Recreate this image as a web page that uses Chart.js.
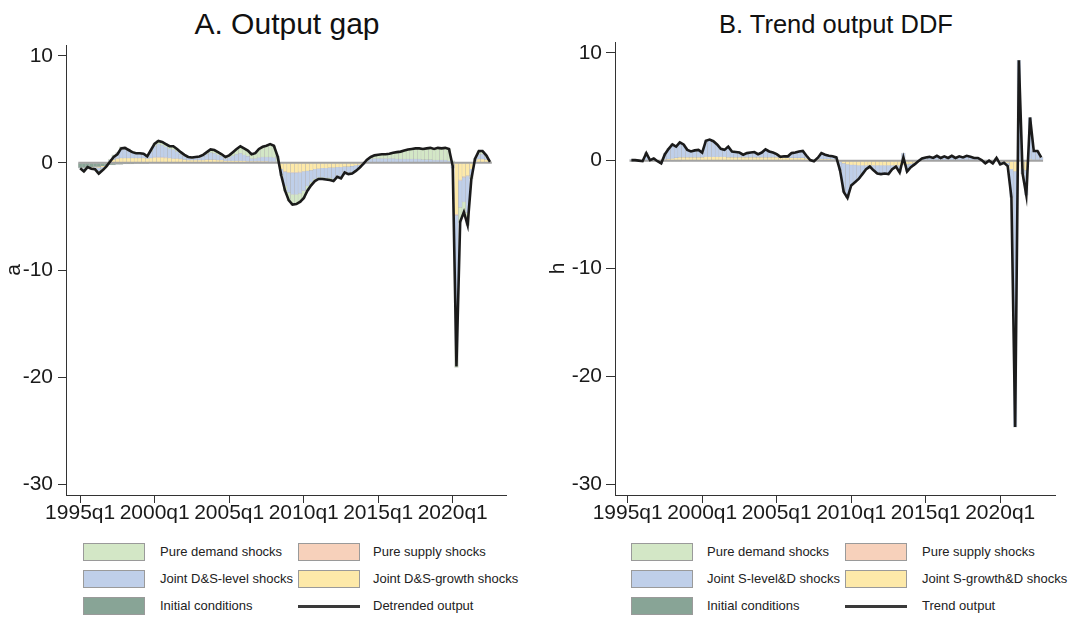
<!DOCTYPE html>
<html>
<head>
<meta charset="utf-8">
<title>Output gap and trend output decomposition</title>
<script src="https://cdn.jsdelivr.net/npm/chart.js@4.4.1/dist/chart.umd.min.js"></script>
<style>
  html, body { margin: 0; padding: 0; background: #fff; width: 1071px; height: 617px; overflow: hidden;
               font-family: "Liberation Sans", Arial, sans-serif; }
  canvas { position: absolute; }
  .ttl { position: absolute; transform: translateX(-50%); white-space: nowrap; line-height: 1.15; color: #111; }
  .sw { position: absolute; width: 62px; height: 18px; box-sizing: border-box; border: 1px solid #9a9a9a; }
  .ln { position: absolute; width: 62px; height: 3px; background: #3a3a3a; }
  .lt { position: absolute; font-size: 13px; line-height: 18px; color: #222; white-space: nowrap; }
</style>
</head>
<body>
<div class="ttl" style="left:287px; top:7px; font-size:30px;">A. Output gap</div>
<div class="ttl" style="left:836px; top:10px; font-size:25.5px;">B. Trend output DDF</div>

<canvas id="chartGap" width="530" height="535" style="left:0; top:0;"></canvas>
<canvas id="chartTrend" width="526" height="535" style="left:545px; top:0;"></canvas>

<!-- legend, panel A -->
<div class="sw" style="left:83px; top:543px; background:#d3e7c6;"></div>
<div class="lt" style="left:160px; top:543px;">Pure demand shocks</div>
<div class="sw" style="left:298px; top:543px; background:#f7d1bb;"></div>
<div class="lt" style="left:373px; top:543px;">Pure supply shocks</div>
<div class="sw" style="left:83px; top:570px; background:#bfcfe9;"></div>
<div class="lt" style="left:160px; top:570px;">Joint D&amp;S-level shocks</div>
<div class="sw" style="left:298px; top:570px; background:#fde9a9;"></div>
<div class="lt" style="left:373px; top:570px;">Joint D&amp;S-growth shocks</div>
<div class="sw" style="left:83px; top:597px; background:#88a496;"></div>
<div class="lt" style="left:160px; top:597px;">Initial conditions</div>
<div class="ln" style="left:298px; top:605px;"></div>
<div class="lt" style="left:373px; top:597px;">Detrended output</div>

<!-- legend, panel B -->
<div class="sw" style="left:631px; top:543px; background:#d3e7c6;"></div>
<div class="lt" style="left:707px; top:543px;">Pure demand shocks</div>
<div class="sw" style="left:845px; top:543px; background:#f7d1bb;"></div>
<div class="lt" style="left:922px; top:543px;">Pure supply shocks</div>
<div class="sw" style="left:631px; top:570px; background:#bfcfe9;"></div>
<div class="lt" style="left:707px; top:570px;">Joint S-level&amp;D shocks</div>
<div class="sw" style="left:845px; top:570px; background:#fde9a9;"></div>
<div class="lt" style="left:922px; top:570px;">Joint S-growth&amp;D shocks</div>
<div class="sw" style="left:631px; top:597px; background:#88a496;"></div>
<div class="lt" style="left:707px; top:597px;">Initial conditions</div>
<div class="ln" style="left:845px; top:605px;"></div>
<div class="lt" style="left:922px; top:597px;">Trend output</div>

<script>
// Quarterly sample, 1995q1 - 2023q1
const quarters = [];
for (let yr = 1995; yr <= 2023; yr++) for (let q = 1; q <= 4; q++) quarters.push(yr + 'q' + q);
quarters.length = 113;

const xTickLabels = ['1995q1', '2000q1', '2005q1', '2010q1', '2015q1', '2020q1'];
const yTickValues = [-30, -20, -10, 0, 10];

// ---- Panel A: output gap and its historical decomposition (1995q1 - 2022q3) ----
const gapTotal = [
  -0.5, -0.8, -0.4, -0.55, -0.6, -1.0, -0.7, -0.35, 0.1, 0.55,
  0.8, 1.35, 1.4, 1.2, 1.0, 0.9, 0.9, 0.85, 0.6, 1.2,
  1.8, 2.05, 1.95, 1.75, 1.55, 1.55, 1.3, 1.0, 0.75, 0.55,
  0.5, 0.55, 0.6, 0.75, 1.0, 1.25, 1.2, 1.0, 0.8, 0.55,
  0.7, 1.0, 1.3, 1.55, 1.35, 1.15, 0.8, 0.9, 1.3, 1.5,
  1.6, 1.75, 1.6, 0.6, -1.2, -2.6, -3.5, -3.9, -3.85, -3.65,
  -3.3, -2.6, -2.1, -1.7, -1.5, -1.5, -1.55, -1.6, -1.7, -1.3,
  -1.45, -0.9, -1.05, -1.0, -0.75, -0.45, -0.1, 0.3, 0.55, 0.7,
  0.75, 0.8, 0.8, 0.85, 0.95, 1.0, 1.05, 1.15, 1.25, 1.3,
  1.35, 1.35, 1.3, 1.35, 1.4, 1.3, 1.4, 1.35, 1.4, 1.3,
  -0.3, -19.0, -5.5, -4.6, -5.8, -1.5, 0.4, 1.1, 1.1, 0.7,
  0.1
];
const gapPureDemand = [
  0, -0.15, 0, -0.05, -0.1, -0.25, -0.15, 0, 0.05, 0.1,
  0.1, 0.25, 0.25, 0.2, 0.15, 0.1, 0.1, 0.1, 0.05, 0.15,
  0.3, 0.35, 0.35, 0.3, 0.25, 0.3, 0.25, 0.2, 0.15, 0.1,
  0.1, 0.1, 0.1, 0.15, 0.2, 0.3, 0.3, 0.25, 0.2, 0.15,
  0.2, 0.35, 0.5, 0.65, 0.6, 0.55, 0.4, 0.5, 0.8, 0.95,
  1.05, 1.2, 1.1, 0.5, -0.1, -0.5, -0.8, -1.0, -0.95, -0.85,
  -0.7, -0.45, -0.3, -0.2, -0.15, -0.15, -0.15, -0.2, -0.2, -0.1,
  -0.15, -0.05, -0.1, -0.1, -0.05, 0, 0.05, 0.1, 0.2, 0.3,
  0.35, 0.4, 0.4, 0.45, 0.55, 0.65, 0.7, 0.8, 0.9, 0.95,
  1.0, 1.0, 1.0, 1.05, 1.1, 1.05, 1.15, 1.1, 1.15, 1.1,
  0.2, -2.2, -1.4, -1.0, -1.2, -0.3, 0.05, 0.3, 0.3, 0.15,
  0
];
const gapPureSupply = [
  0, 0, 0, 0, 0, 0, 0, 0, 0, 0,
  0, 0, 0, 0, 0, 0, 0, 0, 0, 0,
  0.05, 0.05, 0.05, 0.05, 0, 0, 0, 0, 0, 0,
  0, 0, 0, 0, 0, 0, 0, 0, 0, 0,
  0, 0, 0, 0, 0, 0, 0, 0, 0, 0,
  0, 0, 0, 0, 0, -0.05, -0.05, -0.05, -0.05, -0.05,
  0, 0, 0, 0, 0, 0, 0, 0, 0, 0,
  0, 0, 0, 0, 0, 0, 0, 0, 0, 0,
  0, 0, 0, 0, 0, 0, 0, 0, 0, 0,
  0, 0, 0, 0, 0, 0, 0, 0, 0, 0,
  0, -0.1, -0.05, -0.05, -0.05, 0, 0, 0, 0, 0,
  0
];
const gapJointLevel = [
  -0.05, -0.15, 0, -0.05, -0.1, -0.3, -0.15, 0, 0.1, 0.35,
  0.45, 0.8, 0.8, 0.65, 0.5, 0.4, 0.4, 0.35, 0.2, 0.6,
  1.0, 1.2, 1.1, 1.0, 0.85, 0.85, 0.65, 0.45, 0.3, 0.2,
  0.15, 0.2, 0.25, 0.35, 0.5, 0.65, 0.6, 0.5, 0.35, 0.2,
  0.3, 0.45, 0.6, 0.7, 0.55, 0.45, 0.25, 0.25, 0.35, 0.4,
  0.4, 0.45, 0.4, 0.1, -0.5, -1.3, -1.8, -2.0, -2.0, -1.95,
  -1.8, -1.4, -1.1, -0.9, -0.8, -0.85, -0.9, -0.95, -1.05, -0.8,
  -0.9, -0.5, -0.6, -0.6, -0.45, -0.25, -0.05, 0.15, 0.3, 0.35,
  0.35, 0.35, 0.35, 0.35, 0.35, 0.3, 0.3, 0.3, 0.3, 0.3,
  0.3, 0.3, 0.25, 0.25, 0.25, 0.2, 0.2, 0.2, 0.2, 0.15,
  -0.3, -12.0, -2.5, -2.3, -3.4, -0.6, 0.15, 0.45, 0.45, 0.25,
  0
];
const gapJointGrowth = [
  0, -0.05, 0, -0.05, -0.05, -0.1, -0.1, -0.05, 0.15, 0.3,
  0.4, 0.45, 0.45, 0.45, 0.45, 0.45, 0.45, 0.45, 0.4, 0.45,
  0.5, 0.5, 0.5, 0.45, 0.45, 0.4, 0.4, 0.35, 0.3, 0.25,
  0.25, 0.25, 0.25, 0.25, 0.3, 0.3, 0.3, 0.25, 0.25, 0.2,
  0.2, 0.2, 0.2, 0.2, 0.2, 0.15, 0.15, 0.15, 0.15, 0.15,
  0.15, 0.1, 0.1, 0, -0.6, -0.8, -0.9, -0.9, -0.9, -0.85,
  -0.8, -0.75, -0.7, -0.6, -0.55, -0.5, -0.5, -0.45, -0.45, -0.4,
  -0.4, -0.35, -0.35, -0.3, -0.25, -0.2, -0.1, 0.05, 0.05, 0.05,
  0.05, 0.05, 0.05, 0.05, 0.05, 0.05, 0.05, 0.05, 0.05, 0.05,
  0.05, 0.05, 0.05, 0.05, 0.05, 0.05, 0.05, 0.05, 0.05, 0.05,
  -0.2, -4.8, -1.6, -1.3, -1.2, -0.6, 0.2, 0.35, 0.35, 0.3,
  0.1
];
const gapInitial = [
  -0.45, -0.45, -0.4, -0.4, -0.35, -0.35, -0.3, -0.3, -0.2, -0.2,
  -0.15, -0.15, -0.1, -0.1, -0.1, -0.05, -0.05, -0.05, -0.05, 0,
  0, 0, 0, 0, 0, 0, 0, 0, 0, 0,
  0, 0, 0, 0, 0, 0, 0, 0, 0, 0,
  0, 0, 0, 0, 0, 0, 0, 0, 0, 0,
  0, 0, 0, 0, 0, 0, 0, 0, 0, 0,
  0, 0, 0, 0, 0, 0, 0, 0, 0, 0,
  0, 0, 0, 0, 0, 0, 0, 0, 0, 0,
  0, 0, 0, 0, 0, 0, 0, 0, 0, 0,
  0, 0, 0, 0, 0, 0, 0, 0, 0, 0,
  0, 0, 0, 0, 0, 0, 0, 0, 0, 0,
  0
];

// ---- Panel B: trend output (DDF) and its decomposition (1995q2 - 2022q4) ----
const trendTotal = [
  null, 0.05, 0.05, 0.0, -0.05, 0.7, 0.05, 0.2, -0.05, -0.25,
  0.6, 1.1, 1.5, 1.3, 1.7, 1.5, 1.0, 0.85, 0.95, 1.0,
  0.75, 1.85, 1.95, 1.8, 1.5, 1.1, 1.0, 1.3, 0.85, 0.8,
  0.75, 0.55, 0.7, 0.75, 0.8, 0.6, 0.75, 1.05, 0.85, 0.75,
  0.6, 0.35, 0.4, 0.4, 0.7, 0.75, 0.85, 0.9, 0.45, 0.05,
  -0.05, 0.25, 0.7, 0.55, 0.45, 0.4, 0.3, -0.9, -2.9, -3.45,
  -2.3, -2.0, -1.7, -1.25, -0.8, -0.55, -0.9, -1.2, -1.25, -1.2,
  -1.25, -0.8, -0.55, -1.1, 0.3, -1.0, -0.6, -0.35, -0.05, 0.2,
  0.3, 0.35, 0.25, 0.45, 0.25, 0.4, 0.25, 0.45, 0.25, 0.4,
  0.3, 0.45, 0.35, 0.25, 0.25, 0.05, -0.25, 0.0, -0.25, 0.25,
  -0.35, -0.2, -0.5, -3.4, -24.7, 9.3, -1.2, -3.2, 4.0, 0.9,
  0.9, 0.3
];
const trendPureDemand = [
  null, 0, 0, 0, 0, 0, 0, 0, 0, 0,
  0, 0, 0, 0, 0, 0, 0, 0, 0, 0,
  0, 0, 0, 0, 0, 0, 0, 0, 0, 0,
  0, 0, 0, 0, 0, 0, 0, 0, 0, 0,
  0, 0, 0, 0, 0, 0, 0, 0, 0, 0,
  0, 0, 0, 0, 0, 0, 0, 0, 0, 0,
  0, 0, 0, 0, 0, 0, 0, 0, 0, 0,
  0, 0, 0, 0, 0, 0, 0, 0, 0, 0,
  0, 0, 0, 0, 0, 0, 0, 0, 0, 0,
  0, 0, 0, 0, 0, 0, 0, 0, 0, 0,
  0, 0, 0, 0, 0, 0, 0, 0, 0, 0,
  0, 0
];
const trendPureSupply = [
  null, 0, 0, 0, 0, 0, 0, 0, 0, 0,
  0, 0, 0, 0, 0, 0, 0, 0, 0, 0,
  0, 0, 0, 0, 0, 0, 0, 0, 0, 0,
  0, 0, 0, 0, 0, 0, 0, 0, 0, 0,
  0, 0, 0, 0, 0, 0, 0, 0, 0, 0,
  0, 0, 0, 0, 0, 0, 0, 0, 0, 0,
  0, 0, 0, 0, 0, 0, 0, 0, 0, 0,
  0, 0, 0, 0, 0, 0, 0, 0, 0, 0,
  0, 0, 0, 0, 0, 0, 0, 0, 0, 0,
  0, 0, 0, 0, 0, 0, 0, 0, 0, 0,
  0, 0, 0, 0, 0, 0, 0, 0, 0, 0,
  0, 0
];
const trendJointLevel = [
  null, 0.1, 0.1, 0.05, 0.0, 0.7, 0.05, 0.2, -0.05, -0.25,
  0.55, 1.0, 1.35, 1.1, 1.45, 1.2, 0.7, 0.55, 0.65, 0.7,
  0.45, 1.5, 1.6, 1.45, 1.15, 0.75, 0.65, 1.0, 0.55, 0.5,
  0.45, 0.25, 0.4, 0.45, 0.5, 0.3, 0.45, 0.75, 0.55, 0.45,
  0.3, 0.1, 0.15, 0.15, 0.45, 0.5, 0.6, 0.65, 0.25, -0.05,
  -0.1, 0.15, 0.55, 0.4, 0.3, 0.3, 0.25, -0.8, -2.65, -3.1,
  -1.9, -1.6, -1.25, -0.8, -0.35, -0.1, -0.45, -0.75, -0.8, -0.75,
  -0.8, -0.35, -0.1, -0.65, 0.7, -0.65, -0.3, -0.15, 0.05, 0.2,
  0.25, 0.3, 0.2, 0.4, 0.2, 0.35, 0.2, 0.4, 0.2, 0.35,
  0.25, 0.4, 0.3, 0.2, 0.2, 0.05, -0.2, 0.0, -0.2, 0.25,
  -0.25, -0.1, -0.3, -2.6, -23.7, 9.3, -0.4, -2.3, 3.9, 0.85,
  0.85, 0.3
];
const trendJointGrowth = [
  null, 0, 0, 0, 0, 0.05, 0.05, 0.05, 0.05, 0.05,
  0.1, 0.15, 0.2, 0.25, 0.3, 0.3, 0.3, 0.3, 0.3, 0.3,
  0.3, 0.35, 0.35, 0.35, 0.35, 0.35, 0.35, 0.3, 0.3, 0.3,
  0.3, 0.3, 0.3, 0.3, 0.3, 0.3, 0.3, 0.3, 0.3, 0.3,
  0.3, 0.25, 0.25, 0.25, 0.25, 0.25, 0.25, 0.25, 0.2, 0.1,
  0.05, 0.1, 0.15, 0.15, 0.15, 0.1, 0.05, -0.1, -0.25, -0.35,
  -0.4, -0.4, -0.45, -0.45, -0.45, -0.45, -0.45, -0.45, -0.45, -0.45,
  -0.45, -0.45, -0.45, -0.45, -0.4, -0.35, -0.3, -0.2, -0.1, 0,
  0.05, 0.05, 0.05, 0.05, 0.05, 0.05, 0.05, 0.05, 0.05, 0.05,
  0.05, 0.05, 0.05, 0.05, 0.05, 0, -0.05, 0, -0.05, 0,
  -0.1, -0.1, -0.2, -0.8, -1.0, 0, -0.8, -0.9, 0.1, 0.05,
  0.05, 0
];
const trendInitial = [
  null, -0.05, -0.05, -0.05, -0.05, -0.05, -0.05, -0.05, -0.05, -0.05,
  -0.05, -0.05, -0.05, -0.05, -0.05, 0, 0, 0, 0, 0,
  0, 0, 0, 0, 0, 0, 0, 0, 0, 0,
  0, 0, 0, 0, 0, 0, 0, 0, 0, 0,
  0, 0, 0, 0, 0, 0, 0, 0, 0, 0,
  0, 0, 0, 0, 0, 0, 0, 0, 0, 0,
  0, 0, 0, 0, 0, 0, 0, 0, 0, 0,
  0, 0, 0, 0, 0, 0, 0, 0, 0, 0,
  0, 0, 0, 0, 0, 0, 0, 0, 0, 0,
  0, 0, 0, 0, 0, 0, 0, 0, 0, 0,
  0, 0, 0, 0, 0, 0, 0, 0, 0, 0,
  0, 0
];

const COLORS = {
  demand: '#d3e7c6', supply: '#f7d1bb', level: '#bfcfe9',
  growth: '#fde9a9', initial: '#88a496', line: '#1b1b1b'
};

Chart.defaults.font.family = '"Liberation Sans", Arial, sans-serif';
Chart.defaults.color = '#1a1a1a';

// thin grey band along zero over the sample, drawn just below the total line
const zeroBand = {
  id: 'zeroBand',
  beforeDatasetDraw(chart, args) {
    if (args.meta.type !== 'line') return;
    const data = chart.data.datasets[args.index].data;
    const first = data.findIndex(v => v !== null);
    const last = data.length - 1;
    const { ctx, scales: { x, y } } = chart;
    const y0 = y.getPixelForValue(0);
    ctx.save();
    ctx.strokeStyle = '#a2a2a2';
    ctx.lineWidth = 2;
    ctx.beginPath();
    ctx.moveTo(x.getPixelForValue(first - 0.5), y0);
    ctx.lineTo(x.getPixelForValue(last + 0.5), y0);
    ctx.stroke();
    ctx.restore();
  }
};

function barSet(label, data, color) {
  return {
    type: 'bar', label, data,
    backgroundColor: color,
    borderColor: 'rgba(95,95,95,0.35)',
    borderWidth: 0.5,
    barPercentage: 1, categoryPercentage: 1,
    stack: 'parts', order: 1
  };
}

function drawPanel(canvasId, p) {
  const index = quarters.map((_, i) => i);
  return new Chart(document.getElementById(canvasId), {
    type: 'bar',
    data: {
      labels: index,
      datasets: [
        barSet('Initial conditions', p.initial, COLORS.initial),
        barSet(p.growthName, p.growth, COLORS.growth),
        barSet('Pure supply shocks', p.supply, COLORS.supply),
        barSet(p.levelName, p.level, COLORS.level),
        barSet('Pure demand shocks', p.demand, COLORS.demand),
        {
          type: 'line', label: p.lineName, data: p.total,
          borderColor: COLORS.line, borderWidth: 2.6,
          pointRadius: 0, tension: 0, fill: false,
          stack: 'total', order: 0
        }
      ]
    },
    options: {
      responsive: false, animation: false, devicePixelRatio: 1, events: [],
      layout: { padding: { top: p.padTop, right: p.padRight, left: 0, bottom: 0 } },
      plugins: { legend: { display: false }, tooltip: { enabled: false }, title: { display: false } },
      scales: {
        x: {
          type: 'linear', min: p.xMin, max: p.xMax, offset: false,
          grid: { display: true, offset: false, drawOnChartArea: false, drawTicks: true,
                  tickLength: 8, color: '#333', lineWidth: 1 },
          border: { display: true, color: '#333', width: 1 },
          ticks: { autoSkip: false, maxRotation: 0, padding: -2, color: '#1a1a1a',
                   font: { size: 21 }, callback: (v) => quarters[v] },
          afterBuildTicks: (s) => { s.ticks = xTickLabels.map(t => ({ value: quarters.indexOf(t) })); },
          afterFit: (s) => { s.height = 40; }
        },
        y: {
          type: 'linear', min: -31, max: 11, stacked: true,
          grid: { display: true, drawOnChartArea: false, drawTicks: true,
                  tickLength: p.tickLen, color: '#333', lineWidth: 1 },
          border: { display: true, color: '#333', width: 1 },
          ticks: { padding: p.tickPad, color: '#1a1a1a', font: { size: 21 } },
          afterBuildTicks: (s) => { s.ticks = yTickValues.map(v => ({ value: v })); },
          title: { display: true, text: p.yTitle, color: '#1a1a1a', font: { size: 21 },
                   padding: { top: p.titlePad, bottom: 0 } },
          afterFit: (s) => { s.width = p.yWidth; }
        }
      }
    },
    plugins: [zeroBand]
  });
}

drawPanel('chartGap', {
  total: gapTotal, demand: gapPureDemand, supply: gapPureSupply,
  level: gapJointLevel, growth: gapJointGrowth, initial: gapInitial,
  levelName: 'Joint D&S-level shocks', growthName: 'Joint D&S-growth shocks',
  lineName: 'Detrended output', yTitle: 'a', xMin: -3.8, xMax: 114.3,
  padTop: 45, padRight: 24, yWidth: 66, tickLen: 8, tickPad: 5, titlePad: 2
});

drawPanel('chartTrend', {
  total: trendTotal, demand: trendPureDemand, supply: trendPureSupply,
  level: trendJointLevel, growth: trendJointGrowth, initial: trendInitial,
  levelName: 'Joint S-level&D shocks', growthName: 'Joint S-growth&D shocks',
  lineName: 'Trend output', yTitle: 'h', xMin: -3.4, xMax: 114.7,
  padTop: 42, padRight: 16, yWidth: 70, tickLen: 9, tickPad: 4, titlePad: 1
});
</script>
</body>
</html>
